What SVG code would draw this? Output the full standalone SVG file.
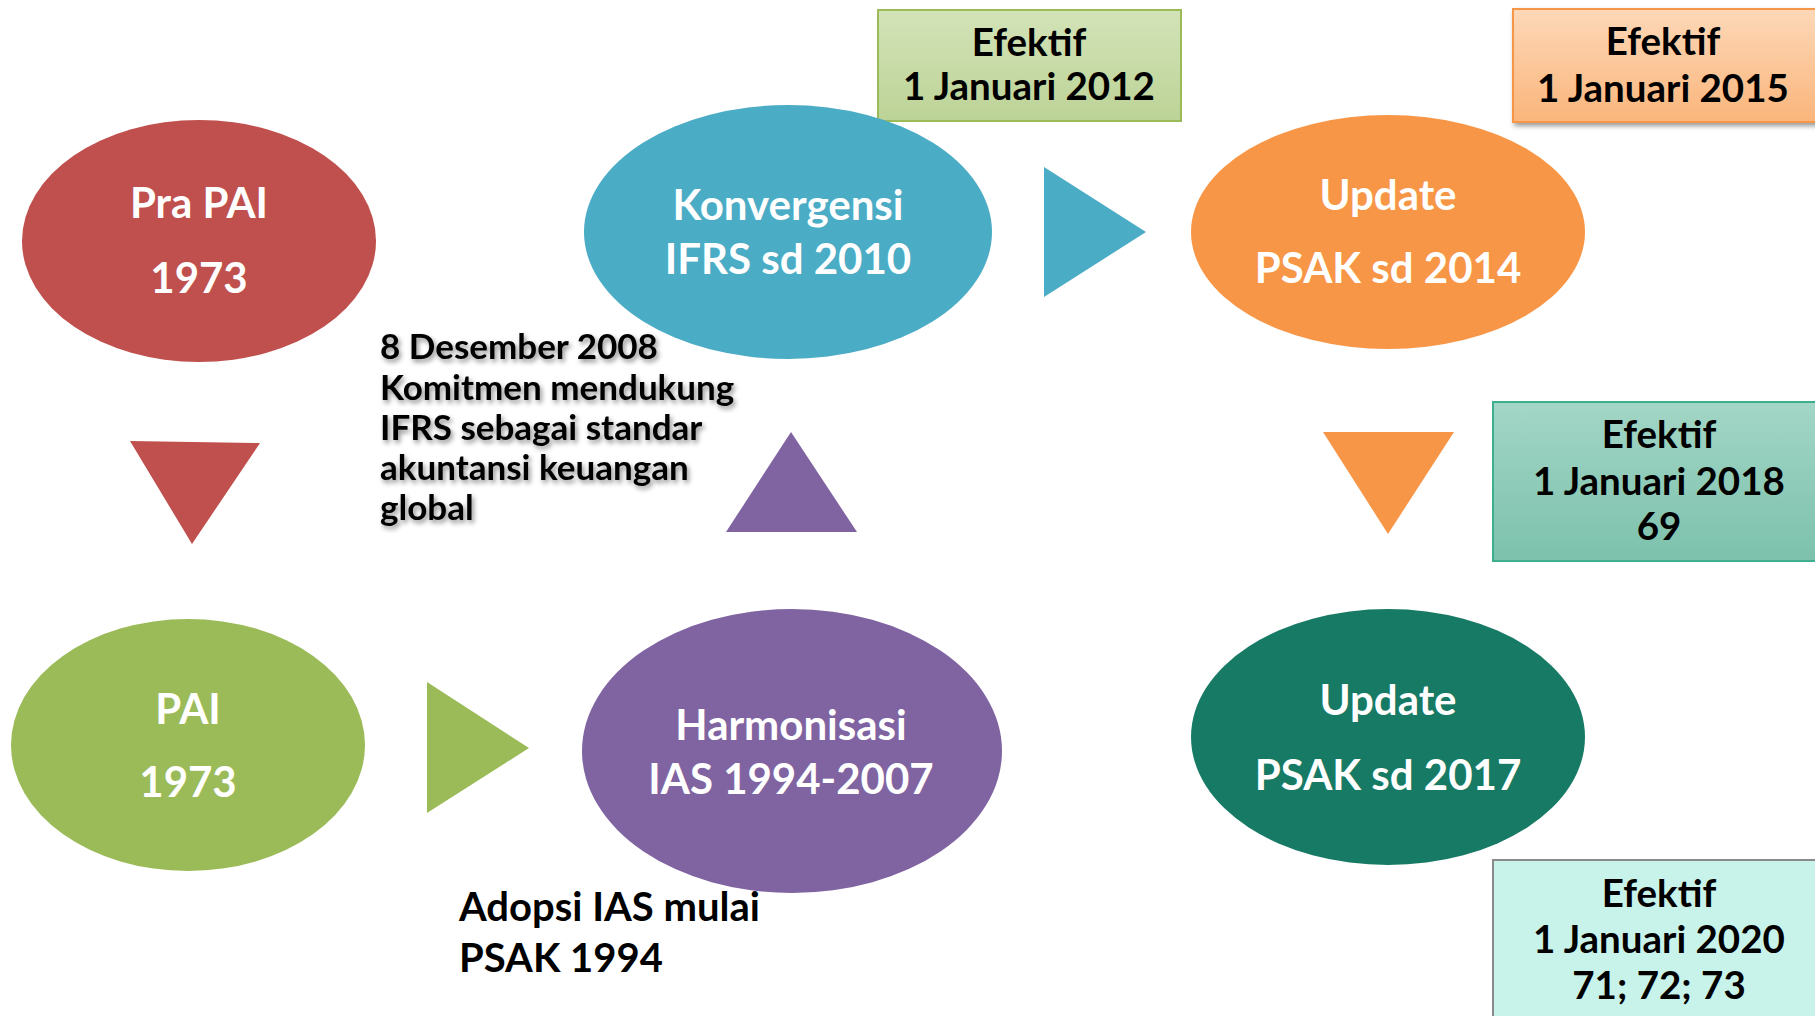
<svg xmlns="http://www.w3.org/2000/svg" width="1815" height="1016" viewBox="0 0 1815 1016">
<defs>
<style>
.w{font-family:Lato,"Open Sans","Liberation Sans",sans-serif;font-weight:bold;fill:#fff;text-anchor:middle;font-size:42px}
.k{font-family:Lato,"Open Sans","Liberation Sans",sans-serif;font-weight:bold;fill:#000;font-size:35px}
.a{font-family:Lato,"Open Sans","Liberation Sans",sans-serif;font-weight:bold;fill:#000;font-size:40px}
.b{font-family:Lato,"Open Sans","Liberation Sans",sans-serif;font-weight:bold;fill:#000;text-anchor:middle;font-size:38.5px}
</style>
<linearGradient id="gG" x1="0" y1="0" x2="0" y2="1"><stop offset="0" stop-color="#d3e3b8"/><stop offset="1" stop-color="#bcd396"/></linearGradient>
<linearGradient id="gO" x1="0" y1="0" x2="0" y2="1"><stop offset="0" stop-color="#fdd8b8"/><stop offset="1" stop-color="#fab57b"/></linearGradient>
<linearGradient id="gT" x1="0" y1="0" x2="0" y2="1"><stop offset="0" stop-color="#a3d6c6"/><stop offset="1" stop-color="#7cc1ac"/></linearGradient>
<filter id="ts" x="-10%" y="-10%" width="120%" height="130%"><feDropShadow dx="2" dy="3" stdDeviation="2.5" flood-color="#000" flood-opacity="0.45"/></filter>
<filter id="bs" x="-10%" y="-10%" width="120%" height="130%"><feDropShadow dx="2" dy="3" stdDeviation="2.5" flood-color="#000" flood-opacity="0.4"/></filter>
</defs>
<rect width="1815" height="1016" fill="#fff"/>

<g id="connectors">
<polygon id="arr-red" points="130,441 260,443 192,544" fill="#c0504d"/>
<polygon id="arr-green" points="427,682 427,813 529,748" fill="#9bbb59"/>
<polygon id="arr-purple" points="791,432 726,532 857,532" fill="#8064a2"/>
<polygon id="arr-blue" points="1044,167 1044,297 1146,232" fill="#4bacc6"/>
<polygon id="arr-orange" points="1323,432 1454,432 1388,534" fill="#f79646"/>
</g>

<g id="box-2012">
<rect x="878" y="10" width="303" height="111" fill="url(#gG)" stroke="#9bbb59" stroke-width="2"/>
<text class="b" x="1029" y="56">Efektif</text>
<text class="b" x="1029" y="100">1 Januari 2012</text>
</g>
<g id="box-2015">
<rect x="1513" y="9" width="310" height="113" fill="url(#gO)" stroke="#f79646" stroke-width="2" filter="url(#bs)"/>
<text class="b" x="1663" y="55">Efektif</text>
<text class="b" x="1663" y="102">1 Januari 2015</text>
</g>
<g id="box-2018">
<rect x="1493" y="402" width="330" height="159" fill="url(#gT)" stroke="#3daf8e" stroke-width="2"/>
<text class="b" x="1659" y="448">Efektif</text>
<text class="b" x="1659" y="495">1 Januari 2018</text>
<text class="b" x="1659" y="540">69</text>
</g>
<g id="box-2020">
<rect x="1493" y="860" width="330" height="170" fill="#c8f3ea" stroke="#8a8a8a" stroke-width="2"/>
<text class="b" x="1659" y="907">Efektif</text>
<text class="b" x="1659" y="953">1 Januari 2020</text>
<text class="b" x="1659" y="999">71; 72; 73</text>
</g>

<g id="node-prapai">
<ellipse cx="199" cy="241" rx="177" ry="121" fill="#c0504d"/>
<text class="w" x="199" y="218">Pra PAI</text>
<text class="w" x="199" y="293">1973</text>
</g>
<g id="node-konvergensi">
<ellipse cx="788" cy="232" rx="204" ry="127" fill="#4bacc6"/>
<text class="w" x="788" y="220">Konvergensi</text>
<text class="w" x="788" y="274">IFRS sd 2010</text>
</g>
<g id="node-update2014">
<ellipse cx="1388" cy="232" rx="197" ry="117" fill="#f79646"/>
<text class="w" x="1388" y="210">Update</text>
<text class="w" x="1388" y="283">PSAK sd 2014</text>
</g>
<g id="node-pai">
<ellipse cx="188" cy="745" rx="177" ry="126" fill="#9bbb59"/>
<text class="w" x="188" y="724">PAI</text>
<text class="w" x="188" y="797">1973</text>
</g>
<g id="node-harmonisasi">
<ellipse cx="792" cy="751" rx="210" ry="142" fill="#8064a2"/>
<text class="w" x="791" y="740">Harmonisasi</text>
<text class="w" x="791" y="794">IAS 1994-2007</text>
</g>
<g id="node-update2017">
<ellipse cx="1388" cy="737" rx="197" ry="128" fill="#177a64"/>
<text class="w" x="1388" y="715">Update</text>
<text class="w" x="1388" y="790">PSAK sd 2017</text>
</g>

<g id="note-2008" filter="url(#ts)">
<text class="k" x="380" y="359">8 Desember 2008</text>
<text class="k" x="380" y="400">Komitmen mendukung</text>
<text class="k" x="380" y="440">IFRS sebagai standar</text>
<text class="k" x="380" y="480">akuntansi keuangan</text>
<text class="k" x="380" y="520">global</text>
</g>
<g id="note-adopsi">
<text class="a" x="459" y="921">Adopsi IAS mulai</text>
<text class="a" x="459" y="972">PSAK 1994</text>
</g>
</svg>
